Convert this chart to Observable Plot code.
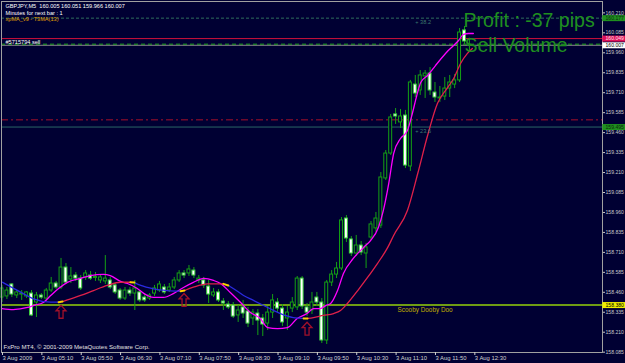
<!DOCTYPE html>
<html><head><meta charset="utf-8">
<script src="https://cdn.jsdelivr.net/npm/d3@7"></script>
<script src="https://cdn.jsdelivr.net/npm/@observablehq/plot@0.6"></script>
<style>
html,body{margin:0;padding:0;background:#000033;}
svg{display:block}
</style></head><body><div id="chart"></div>
<script>
// ---------- data ----------
const symbol = "GBPJPY,M5";
const barStartUTC = [2009, 7, 3, 4, 30]; // first bar 3 Aug 2009 04:30
const barMinutes = 5;

const opens = [158.427,158.434,158.509,158.440,158.446,158.434,158.452,158.396,158.440,158.421,
158.471,158.515,158.490,158.615,158.540,158.565,158.546,158.553,158.565,158.550,
158.534,158.528,158.534,158.503,158.471,158.421,158.471,158.452,158.459,158.427,
158.421,158.452,158.471,158.490,158.471,158.490,158.534,158.578,158.578,158.596,
158.534,158.534,158.496,158.440,158.459,158.402,158.383,158.377,158.315,158.365,
158.340,158.296,158.327,158.296,158.264,158.333,158.396,158.358,158.296,158.358,
158.365,158.546,158.365,158.346,158.427,158.396,158.158,158.521,158.571,158.609,
158.922,158.791,158.703,158.753,158.703,158.803,158.860,158.878,159.173,159.329,
159.574,159.524,159.567,159.248,159.761,159.724,159.812,159.830,159.711,159.674,
159.686,159.736,159.761,159.787,160.100,160.005];
const highs = [158.503,158.490,158.515,158.471,158.471,158.465,158.471,158.459,158.452,158.484,
158.553,158.528,158.672,158.640,158.615,158.584,158.565,158.596,158.590,158.584,
158.571,158.690,158.553,158.515,158.484,158.490,158.490,158.534,158.471,158.446,
158.452,158.503,158.528,158.509,158.515,158.553,158.596,158.596,158.628,158.615,
158.565,158.553,158.534,158.484,158.477,158.421,158.402,158.396,158.377,158.409,
158.365,158.352,158.352,158.321,158.371,158.446,158.421,158.383,158.371,158.427,
158.559,158.559,158.390,158.459,158.459,158.421,158.534,158.596,158.647,158.928,
158.941,158.809,158.816,158.778,158.766,158.903,158.960,159.210,159.348,159.574,
159.611,159.605,159.599,159.787,159.818,159.849,159.849,159.868,159.774,159.749,
159.805,159.818,159.824,160.112,160.125,160.051];
const lows = [158.396,158.415,158.427,158.421,158.409,158.421,158.308,158.302,158.415,158.409,
158.459,158.477,158.477,158.509,158.515,158.528,158.471,158.534,158.534,158.528,
158.515,158.509,158.477,158.446,158.409,158.409,158.434,158.346,158.396,158.396,
158.409,158.434,158.459,158.446,158.459,158.477,158.521,158.546,158.559,158.546,
158.515,158.484,158.390,158.427,158.396,158.346,158.352,158.296,158.271,158.296,
158.239,158.252,158.189,158.183,158.221,158.296,158.333,158.246,158.221,158.333,
158.346,158.352,158.308,158.321,158.371,158.139,158.133,158.496,158.546,158.596,
158.772,158.684,158.684,158.690,158.609,158.784,158.835,158.860,159.160,159.317,
159.511,159.486,159.235,159.217,159.680,159.693,159.674,159.693,159.649,159.649,
159.661,159.680,159.736,159.774,160.012,159.966];
const closes = [158.484,158.471,158.446,158.459,158.452,158.459,158.315,158.440,158.427,158.471,
158.515,158.490,158.615,158.521,158.559,158.546,158.484,158.578,158.546,158.556,
158.553,158.546,158.490,158.459,158.421,158.471,158.452,158.484,158.409,158.409,
158.440,158.484,158.509,158.459,158.490,158.534,158.578,158.565,158.603,158.565,
158.546,158.503,158.446,158.459,158.409,158.390,158.365,158.308,158.346,158.327,
158.264,158.333,158.283,158.258,158.333,158.409,158.358,158.271,158.333,158.396,
158.546,158.371,158.333,158.396,158.396,158.158,158.521,158.571,158.609,158.910,
158.797,158.703,158.753,158.709,158.741,158.885,158.922,159.179,159.329,159.555,
159.561,159.561,159.254,159.774,159.705,159.818,159.830,159.724,159.680,159.680,
159.736,159.774,159.787,160.087,160.031,160.007];

// fast MA (magenta): bar number, price
const magentaBar = [0,2.3,5.2,6.4,8.4,9.9,11.5,13.3,16,18,20.6,22,24.1,25.5,27.5,28.8,30.8,32.8,34.9,36.9,
38.9,41,43,44.4,46.4,48.5,50.5,52.5,54,56,58,60,62,63.3,64.7,65.8,66.8,68.2,69.4,71.4,
73.5,74.9,76.5,77.5,78.6,79.6,81,82.4,83.4,84.3,85.1,86.5,88.1,90.7,92.8,93.8,94.8,95.8];
const magentaPrice = [158.358,158.352,158.365,158.377,158.396,158.440,158.484,158.522,158.547,158.565,
158.572,158.565,158.528,158.515,158.484,158.453,158.428,158.428,158.453,158.490,
158.522,158.547,158.534,158.515,158.459,158.396,158.333,158.296,158.239,158.233,
158.239,158.296,158.327,158.358,158.358,158.377,158.390,158.471,158.578,158.672,
158.741,158.784,158.866,158.972,159.141,159.329,159.423,159.473,159.580,159.692,
159.774,159.818,159.880,159.974,160.037,160.075,160.081,160.081];

// xpMA T3MA(13): segments alternate down (blue) / up (red)
const t3Seg = [0,0,0,0,0, 1,1,1,1,1,1,1, 2,2,2,2,2, 3,3,3,3, 4,4,4,4,4,4,4,4,
5,5,5,5,5,5,5,5,5,5,5,5,5,5,5,5,5,5,5,5];
const t3Trend = ["down","up","down","up","down","up"];
const t3Bar = [0.1,3.8,6.4,9.9,11.5, 12.3,13.3,16,18.6,21.4,24.1,26.1, 26.9,28.2,30.8,33.6,36.3,
37.1,38.9,41.8,45, 46,47,49.1,51.1,54,56.6,59.2,61.3,
62.1,63.3,65.3,67.4,68.8,70.2,72.3,74.3,76.3,78.4,79.6,82.4,84.5,86.5,88.5,90.6,91.8,93.2,94.6,95.6];
const t3Price = [158.523,158.461,158.419,158.398,158.398, 158.402,158.413,158.440,158.471,158.503,158.523,158.523,
158.521,158.503,158.482,158.471,158.467, 158.471,158.492,158.513,158.513,
158.503,158.484,158.440,158.409,158.365,158.327,158.302,158.296,
158.296,158.302,158.315,158.327,158.346,158.390,158.471,158.553,158.640,158.741,158.816,
158.972,159.204,159.442,159.642,159.743,159.799,159.893,159.956,159.987];

// signal arrows (bar number, price at arrow centre)
const arrowBar = [12, 37, 62];
const arrowPrice = [158.338, 158.412, 158.232];

// horizontal levels
const fibLevels = [160.177, 159.495];
const fibTexts = ["+ 38.2", "+ 23.6"];
const fibTextBar = 84;
const orderPrice = 160.049;
const orderText = "#5715794 sell";
const bidPrice = 160.007;
const stopPrice = 160.014;
const redDashPrice = 159.540;
const scoobyPrice = 158.380;
const scoobyText = "Scooby Dooby Doo";
const scoobyBar = 86;

const priceTicks = [160.210,160.085,159.960,159.835,159.710,159.585,159.460,159.335,159.210,159.085,
158.960,158.835,158.710,158.585,158.460,158.335,158.210,158.085];
const xTickTimes = ["04:30","05:10","05:50","06:30","07:10","07:50","08:30","09:10","09:50","10:30","11:10","11:50","12:30"];
const xTickLabels = ["3 Aug 2009","3 Aug 05:10","3 Aug 05:50","3 Aug 06:30","3 Aug 07:10","3 Aug 07:50",
"3 Aug 08:30","3 Aug 09:10","3 Aug 09:50","3 Aug 10:30","3 Aug 11:10","3 Aug 11:50","3 Aug 12:30"];

const infoLines = ["Minutes for next bar : 1", "xpMA_v9 - T3MA(13)"];
const profitText = "Profit : -37 pips";
const volumeText = "Sell Volume";
const copyrightText = "FxPro MT4, \u00a9 2001-2009 MetaQuotes Software Corp.";

// ---------- build ----------
const t0 = Date.UTC(...barStartUTC);
const barMs = barMinutes * 60000;
const toDate = b => new Date(t0 + b * barMs);
const fmt = d3.format(".3f");

const candles = opens.map((o, i) => ({date: toDate(i), open: o, high: highs[i], low: lows[i], close: closes[i]}));
const magenta = magentaBar.map((b, k) => ({date: toDate(b), price: magentaPrice[k]}));
const t3 = t3Bar.map((b, k) => ({date: toDate(b), price: t3Price[k], seg: t3Seg[k], trend: t3Trend[t3Seg[k]]}));
const segGroups = d3.groups(t3, d => d.seg).map(g => g[1]);
const turns = [];
for (let k = 0; k < segGroups.length - 1; k++) {
  const a = segGroups[k][segGroups[k].length - 1], b = segGroups[k + 1][0];
  turns.push({date: a.date, price: a.price, k}, {date: b.date, price: b.price, k});
}
const arrows = arrowBar.map((b, k) => ({date: toDate(b), price: arrowPrice[k]}));
const labelMap = new Map(xTickTimes.map((t, k) => {
  const [h, m] = t.split(":").map(Number);
  return [Date.UTC(2009, 7, 3, h, m), xTickLabels[k]];
}));
const xTicks = [...labelMap.keys()].map(t => new Date(t));

// hollow up-arrow symbol (MT4 arrow code 233 look)
const upArrow = {
  draw(ctx) {
    ctx.moveTo(0, -6.5);
    ctx.lineTo(5, -1);
    ctx.lineTo(2, -1);
    ctx.lineTo(2, 6.5);
    ctx.lineTo(-2, 6.5);
    ctx.lineTo(-2, -1);
    ctx.lineTo(-5, -1);
    ctx.closePath();
  }
};

const bg = "#000033";
const half = 0.3 * barMs;
const domainEnd = toDate(122.05);
const boxStart = toDate(122.1), boxEnd = toDate(127);
const last = candles[candles.length - 1];
const headLine = `${symbol}  ${fmt(last.open)} ${fmt(last.high)} ${fmt(last.low)} ${fmt(last.close)}`;
const font = "Liberation Sans, Arial, sans-serif";

const box = (price, fill, textFill) => [
  Plot.ruleY([price], {x1: boxStart, x2: boxEnd, stroke: fill, strokeWidth: 6}),
  Plot.text([price], {y: d => d, text: d => fmt(d), frameAnchor: "right", dx: 3, textAnchor: "start",
    fill: textFill, fontSize: 5.1, fontFamily: font})
];

const chart = Plot.plot({
  width: 625, height: 363,
  marginLeft: 1, marginRight: 23, marginTop: 1, marginBottom: 11,
  style: {background: bg, color: "#c8c8c8", fontFamily: font, overflow: "visible"},
  x: {type: "utc", domain: [toDate(-0.1016), domainEnd]},
  y: {domain: [158.0829, 160.2813]},
  marks: [
    // levels
    Plot.ruleY([fibLevels[0]], {stroke: "#2f6e5e", strokeDasharray: "3,2"}),
    Plot.ruleY([fibLevels[1]], {stroke: "#2a6666"}),
    Plot.ruleY([redDashPrice], {stroke: "#a8102a", strokeDasharray: "7,3,2,3"}),
    Plot.ruleY([bidPrice], {stroke: "#8a8a8a"}),
    Plot.ruleY([stopPrice], {stroke: "#22a822", strokeDasharray: "4,3"}),
    Plot.ruleY([orderPrice], {stroke: "#d0103a"}),
    Plot.ruleY([scoobyPrice], {stroke: "#6f9c14", strokeWidth: 2}),
    // candles
    Plot.ruleX(candles, {x: "date", y1: "low", y2: "high", stroke: "#14a014"}),
    Plot.rect(candles, {
      x1: d => new Date(+d.date - half), x2: d => new Date(+d.date + half),
      y1: "open", y2: "close",
      fill: d => d.close >= d.open ? bg : "#ffffff",
      stroke: d => d.close >= d.open ? "#14a014" : "#3ccf3c", strokeWidth: 1
    }),
    // moving averages
    Plot.line(magenta, {x: "date", y: "price", stroke: "#ff00ff", strokeWidth: 1.3, curve: "monotone-x"}),
    Plot.line(t3.filter(d => d.trend === "down"), {x: "date", y: "price", z: "seg", stroke: "#2a2ae0", strokeWidth: 1.3, curve: "monotone-x"}),
    Plot.line(t3.filter(d => d.trend === "up"), {x: "date", y: "price", z: "seg", stroke: "#e0204a", strokeWidth: 1.3, curve: "monotone-x"}),
    Plot.line(turns, {x: "date", y: "price", z: "k", stroke: "#ffd000", strokeWidth: 2}),
    // arrows
    Plot.dot(arrows, {x: "date", y: "price", symbol: upArrow, fill: "none", stroke: "#a0102a", strokeWidth: 1.3}),
    // texts in plot
    Plot.text(fibLevels, {x: () => toDate(fibTextBar), y: d => d, text: (d, i) => fibTexts[i], textAnchor: "start",
      dy: 4, fill: "#3d7a6e", fontSize: 5.6}),
    Plot.text([orderPrice], {y: d => d, text: () => orderText, frameAnchor: "left", dx: 4, dy: 4,
      textAnchor: "start", fill: "#ffffff", fontSize: 5.6}),
    Plot.text([scoobyPrice], {x: () => toDate(scoobyBar), y: d => d, text: () => scoobyText, dy: 4.5,
      fill: "#c0b000", fontSize: 6.4}),
    Plot.text([headLine], {frameAnchor: "top-left", dx: 4, dy: 5, lineAnchor: "middle", textAnchor: "start",
      fill: "#ffffff", fontSize: 5.6}),
    Plot.text([infoLines[0]], {frameAnchor: "top-left", dx: 4, dy: 11.3, lineAnchor: "middle", textAnchor: "start",
      fill: "#ffffff", fontSize: 5.6}),
    Plot.text([infoLines[1]], {frameAnchor: "top-left", dx: 4, dy: 17.5, lineAnchor: "middle", textAnchor: "start",
      fill: "#e0a000", fontSize: 5.6}),
    Plot.text([profitText], {frameAnchor: "top-left", dx: 462, dy: 25.7, lineAnchor: "bottom", textAnchor: "start",
      fill: "#1f8f1f", fontSize: 19.5}),
    Plot.text([volumeText], {frameAnchor: "top-left", dx: 463, dy: 50.7, lineAnchor: "bottom", textAnchor: "start",
      fill: "#1f8f1f", fontSize: 19.5}),
    Plot.text([copyrightText], {frameAnchor: "bottom-left", dx: 2, dy: -5, lineAnchor: "middle", textAnchor: "start",
      fill: "#e0e0e0", fontSize: 6.1}),
    // frame and axes
    Plot.frame({stroke: "#a0a0a0"}),
    Plot.axisX({ticks: xTicks, tickFormat: d => labelMap.get(+d), tickSize: 3, tickPadding: 0.5,
      textAnchor: "start", dx: 0.5, fontSize: 5.9, color: "#d0d0d0", label: null}),
    Plot.axisY({anchor: "right", ticks: priceTicks, tickSize: 2, tickPadding: 1, tickFormat: fmt,
      fontSize: 5.1, color: "#c8c8c8", label: null}),
    // price labels on the scale
    ...box(fibLevels[0], "#1f8f1f", "#0a2a0a"),
    ...box(orderPrice, "#e0105a", "#ffe0e8"),
    ...box(bidPrice, "#ffffff", "#000000"),
    ...box(fibLevels[1], "#1f8f1f", "#0a2a0a"),
    ...box(scoobyPrice, "#f0f000", "#000000")
  ]
});
document.getElementById("chart").append(chart);
</script>
</body></html>
